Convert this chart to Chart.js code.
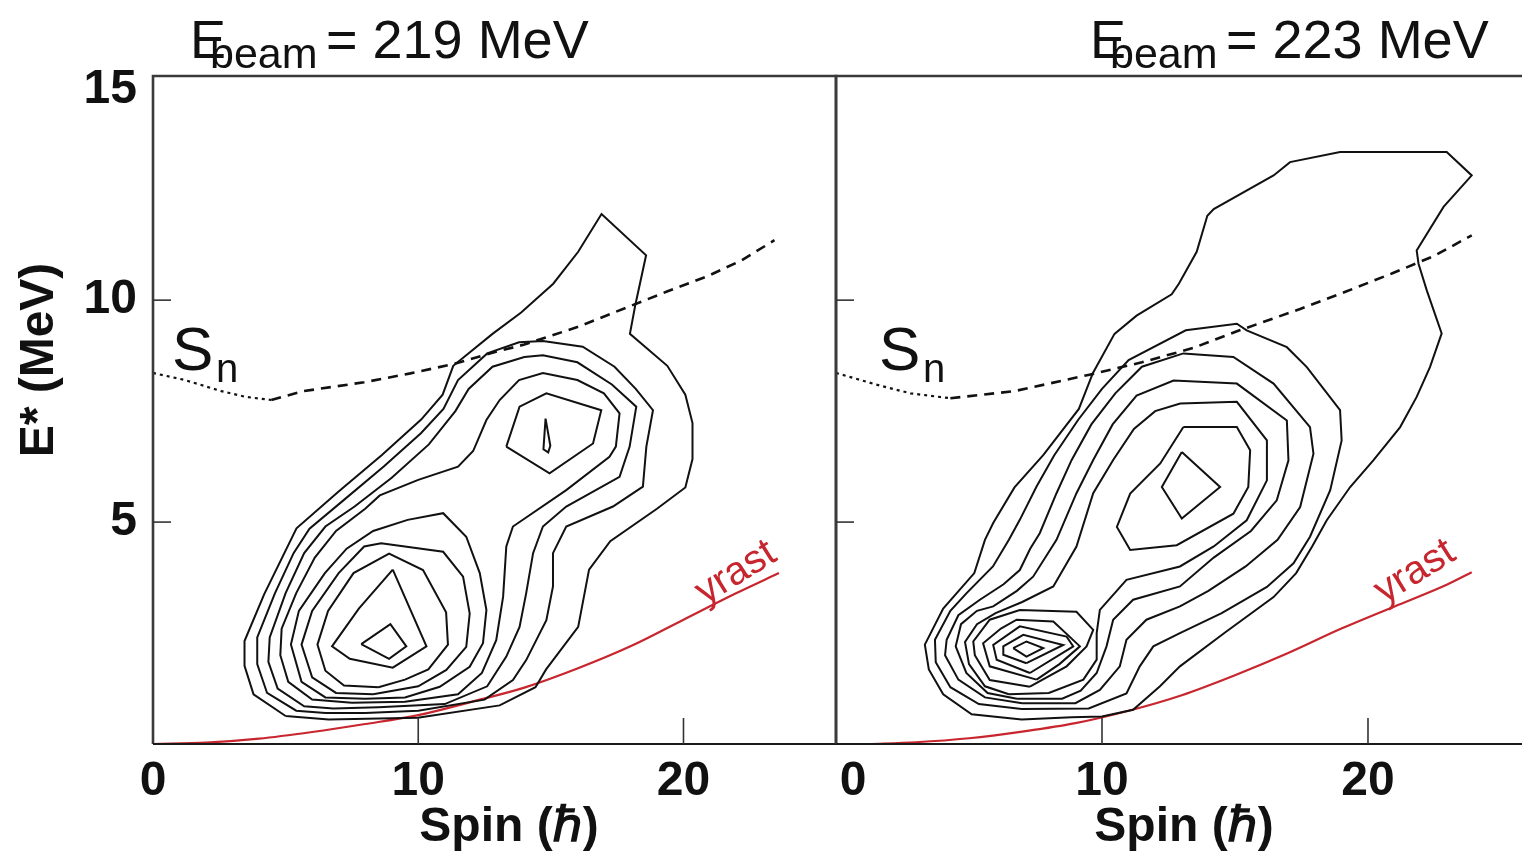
<!DOCTYPE html>
<html>
<head>
<meta charset="utf-8">
<script src="https://cdn.jsdelivr.net/npm/chart.js@4.4.1/dist/chart.umd.min.js"></script>
<style>
  html, body { margin: 0; padding: 0; background: #fff; }
  body { width: 1522px; height: 853px; position: relative; overflow: hidden; }
  canvas { position: absolute; top: 0; }
  #left { left: 0; }
  #right { left: 800px; }
</style>
</head>
<body>
<canvas id="left" width="840" height="853"></canvas>
<canvas id="right" width="722" height="853"></canvas>
<script>
// axis ticks (spin in hbar, excitation energy in MeV)
const spinTicks = [0, 10, 20];
const energyTicks = [5, 10, 15];

// ---- E_beam = 219 MeV ----
const snDotted219 = [[0, 8.36], [1.2, 8.2], [2.58, 7.95], [3.5, 7.82], [4.46, 7.75]];
const snDashed219 = [[4.46, 7.75], [5.67, 7.95], [7.96, 8.15], [9.7, 8.35], [11.32, 8.56], [12.7, 8.8], [14.0, 9.0],
  [16.03, 9.4], [18.05, 9.88], [19.4, 10.2], [20.87, 10.53], [22.2, 10.9], [23.43, 11.35]];
const yrast219 = [[0, 0], [2, 0.03], [4, 0.12], [6, 0.27], [8, 0.45], [10, 0.65], [12, 0.95], [14, 1.27],
  [16, 1.7], [18, 2.2], [20, 2.8], [22, 3.4], [23.6, 3.85]];
const contours219 = [
  [[5.00, 0.63], [3.79, 1.12], [3.45, 1.76], [3.45, 2.32], [4.19, 3.37], [5.41, 4.86], [7.02, 5.70], [8.63, 6.51],
   [10.11, 7.31], [10.92, 7.87], [11.32, 8.52], [12.80, 9.24], [13.88, 9.72], [15.09, 10.37], [16.03, 11.09],
   [16.91, 11.94], [18.59, 11.01], [18.18, 9.88], [17.98, 9.24], [19.39, 8.52], [20.07, 7.87], [20.34, 7.23],
   [20.34, 6.42], [20.07, 5.78], [19.0, 5.30], [17.24, 4.57], [16.44, 3.93], [16.03, 2.64], [14.82, 1.68],
   [14.42, 1.28], [13.07, 0.87], [9.98, 0.59], [6.62, 0.55]],
  [[6.5, 0.70], [5.4, 0.75], [4.3, 1.15], [3.93, 1.8], [3.93, 2.4], [4.6, 3.4], [5.3, 4.3], [5.9, 4.85], [7.2, 5.5],
   [8.7, 6.25], [10.1, 7.0], [10.95, 7.55], [11.5, 8.2], [12.6, 8.8], [13.8, 9.05], [14.7, 9.08], [16.2, 8.95],
   [17.4, 8.5], [18.2, 8.0], [18.85, 7.52], [18.6, 6.70], [18.47, 5.80], [17.34, 5.35], [15.58, 4.90], [15.08, 4.30],
   [15.08, 3.55], [14.83, 2.79], [14.07, 1.89], [13.57, 1.44], [12.5, 1.0], [10.0, 0.75], [8.0, 0.7]],
  [[6.8, 0.80], [5.7, 0.85], [4.7, 1.25], [4.35, 1.85], [4.40, 2.4], [5.0, 3.4], [5.7, 4.3], [6.5, 4.9], [7.6, 5.35],
   [9.0, 6.0], [10.4, 6.75], [11.4, 7.5], [11.9, 8.0], [12.8, 8.5], [14.0, 8.72], [14.7, 8.76], [16.0, 8.6],
   [17.3, 8.1], [18.22, 7.60], [17.97, 6.70], [17.59, 6.02], [15.58, 5.35], [14.70, 4.90], [14.33, 4.30],
   [14.07, 3.40], [13.82, 2.64], [13.32, 1.97], [12.6, 1.3], [11.0, 0.9], [8.5, 0.83]],
  [[7.5, 0.93], [6.0, 1.0], [5.1, 1.4], [4.8, 2.0], [4.85, 2.6], [5.4, 3.4], [6.1, 4.2], [6.9, 4.8], [8.0, 5.3],
   [8.55, 5.6], [10.0, 5.95], [11.5, 6.25], [12.07, 6.6], [12.57, 7.3], [13.07, 7.75], [13.8, 8.2], [14.7, 8.36],
   [16.0, 8.2], [17.0, 7.9], [17.59, 7.45], [17.45, 6.7], [17.21, 6.47], [15.58, 5.72], [13.57, 4.90], [13.32, 4.45],
   [13.2, 3.32], [12.94, 2.34], [12.4, 1.6], [11.5, 1.12], [9.5, 0.95]],
  // upper maximum
  [[13.32, 6.70], [13.82, 7.60], [14.83, 7.90], [16.90, 7.52], [16.59, 6.77], [14.95, 6.10]],
  [[14.8, 7.33], [14.98, 6.72], [14.9, 6.57], [14.72, 6.64]],
  // lower maximum
  [[8.0, 1.02], [6.5, 1.05], [5.6, 1.4], [5.2, 2.24], [5.5, 3.0], [6.48, 3.85], [7.3, 4.4], [8.3, 4.8], [9.6, 5.05],
   [10.94, 5.2], [11.81, 4.67], [12.32, 3.85], [12.57, 3.02], [12.44, 2.27], [11.94, 1.74], [10.81, 1.29], [9.5, 1.05]],
  [[8.3, 1.12], [6.9, 1.15], [6.0, 1.5], [5.6, 2.24], [6.0, 3.0], [7.0, 3.85], [7.96, 4.45], [8.6, 4.52],
   [10.94, 4.33], [11.69, 3.77], [11.94, 2.94], [11.81, 2.19], [11.06, 1.67], [10.0, 1.3]],
  [[8.5, 1.28], [7.2, 1.32], [6.5, 1.65], [6.2, 2.24], [6.6, 3.0], [7.56, 3.85], [8.9, 4.29], [10.18, 3.92],
   [11.05, 2.97], [11.12, 2.24], [10.38, 1.68], [9.5, 1.45]],
  [[9.04, 3.93], [10.31, 2.2], [9.04, 1.72], [7.42, 1.92], [6.75, 2.2], [7.76, 3.05]],
  [[7.85, 2.25], [8.95, 2.7], [9.55, 2.2], [8.9, 1.92]]
];

// ---- E_beam = 223 MeV ----
const snDotted223 = [[0, 8.36], [1.5, 8.1], [2.8, 7.9], [4.3, 7.79]];
const snDashed223 = [[4.3, 7.79], [6.71, 7.95], [9.53, 8.32], [11.5, 8.6], [13.42, 8.92], [15.17, 9.32],
  [17.45, 9.8], [19.2, 10.2], [20.94, 10.61], [22.5, 11.0], [23.9, 11.46]];
const yrast223 = [[1.2, 0], [3, 0.04], [5, 0.13], [7, 0.28], [9, 0.47], [11, 0.75], [13, 1.1], [15, 1.55],
  [17, 2.05], [19, 2.6], [21, 3.1], [23, 3.6], [23.9, 3.87]];
const contours223 = [
  [[8.86, 0.6], [6.98, 0.55], [5.1, 0.67], [4.03, 1.12], [3.49, 1.68], [3.34, 2.24], [4.03, 3.05], [5.2, 3.85],
   [5.6, 4.6], [5.91, 4.98], [6.71, 5.78], [7.79, 6.51], [9.13, 7.55], [9.66, 8.36], [10.47, 9.24], [11.3, 9.65],
   [12.62, 10.13], [12.89, 10.37], [13.56, 11.09], [13.96, 11.9], [14.2, 12.05], [16.45, 12.81], [17.07, 13.11],
   [18.95, 13.34], [22.96, 13.34], [23.9, 12.81], [22.84, 12.1], [21.83, 11.12], [21.9, 10.82], [22.21, 10.22],
   [22.77, 9.25], [22.33, 8.49], [21.83, 7.82], [21.21, 7.14], [20.2, 6.39], [19.33, 5.79], [18.45, 5.04],
   [17.9, 4.45], [17.3, 3.85], [16.45, 3.31], [14.6, 2.5], [12.93, 1.75], [12.18, 1.3], [11.17, 0.77], [10.0, 0.62]],
  [[6.98, 0.79], [5.37, 0.9], [4.3, 1.28], [3.75, 1.84], [3.72, 2.35], [4.3, 3.0], [4.91, 3.4], [5.9, 4.0],
   [6.5, 4.6], [6.91, 5.05], [7.54, 5.8], [8.2, 6.5], [9.1, 7.3], [10.0, 8.0], [11.0, 8.65], [13.15, 9.32],
   [15.07, 9.47], [15.44, 9.32], [16.95, 8.94], [17.7, 8.49], [18.95, 7.52], [19.01, 6.84], [18.58, 5.72],
   [17.82, 4.67], [17.2, 4.07], [16.2, 3.54], [14.5, 2.95], [12.93, 2.5], [11.93, 2.2], [11.42, 1.75],
   [10.92, 1.14], [9.5, 0.8]],
  [[7.0, 0.92], [5.6, 1.05], [4.6, 1.45], [4.1, 2.0], [4.16, 2.35], [4.6, 2.9], [5.41, 3.25], [6.3, 3.6],
   [6.91, 3.92], [7.3, 4.4], [7.66, 4.75], [8.29, 5.65], [8.86, 6.4], [9.6, 7.2], [10.5, 7.9], [11.5, 8.5],
   [13.06, 8.8], [14.94, 8.72], [16.45, 8.12], [17.82, 7.14], [17.95, 6.54], [17.45, 5.34], [16.6, 4.6],
   [15.4, 4.0], [14.0, 3.45], [12.93, 3.1], [11.67, 2.8], [10.92, 2.35], [10.67, 1.75], [9.92, 1.22], [9.0, 0.92]],
  [[6.8, 1.02], [5.7, 1.15], [4.9, 1.6], [4.5, 2.2], [4.7, 2.7], [5.3, 3.0], [5.91, 3.1], [6.8, 3.45], [7.41, 3.77],
   [8.29, 4.6], [9.04, 5.65], [9.67, 6.4], [10.4, 7.2], [11.3, 7.85], [12.69, 8.19], [15.07, 8.12], [16.95, 7.29],
   [17.01, 6.39], [16.57, 5.49], [15.6, 4.8], [14.2, 4.2], [12.93, 3.55], [11.17, 3.25], [10.42, 2.8],
   [10.17, 2.2], [9.8, 1.6], [9.2, 1.2], [8.5, 1.02]],
  [[6.5, 1.12], [5.6, 1.3], [5.0, 1.8], [4.85, 2.3], [5.3, 2.7], [6.0, 2.95], [7.0, 3.2], [8.17, 3.55],
   [9.04, 4.45], [9.67, 5.65], [10.42, 6.4], [11.2, 7.1], [12.0, 7.5], [12.94, 7.67], [15.07, 7.71], [16.2, 6.84],
   [16.2, 5.94], [15.44, 5.04], [14.2, 4.45], [12.93, 4.0], [10.92, 3.7], [9.92, 3.02], [9.8, 2.5], [9.8, 1.9],
   [9.3, 1.45], [8.0, 1.15]],
  // upper maximum
  [[13.06, 7.14], [15.07, 7.14], [15.57, 6.62], [15.5, 5.79], [14.94, 5.19], [12.81, 4.48], [11.06, 4.37],
   [10.56, 4.89], [11.06, 5.64], [12.19, 6.32]],
  [[13.0, 6.58], [14.44, 5.79], [13.0, 5.08], [12.25, 5.79]],
  // lower maximum
  [[7.29, 1.29], [5.78, 1.44], [5.22, 2.0], [5.16, 2.31], [5.78, 2.8], [6.91, 3.02], [9.04, 2.98], [9.67, 2.57],
   [9.42, 2.2], [8.67, 1.75]],
  [[7.54, 1.45], [5.78, 1.75], [5.53, 2.27], [6.2, 2.6], [6.79, 2.8], [8.17, 2.76], [9.17, 2.2], [8.4, 1.8]],
  [[7.29, 1.6], [6.04, 1.9], [5.91, 2.23], [6.91, 2.65], [8.67, 2.42], [8.92, 2.2]],
  [[7.16, 1.82], [6.29, 2.01], [6.29, 2.2], [7.04, 2.46], [8.54, 2.23]],
  [[6.66, 2.16], [7.16, 2.31], [7.79, 2.16], [7.16, 1.97]]
];

Chart.defaults.font.family = "'Liberation Sans', Arial, sans-serif";

const INK = '#111';
const RED = '#c8262e';
const SANS = "'Liberation Sans', Arial, sans-serif";

const toPoints = list => list.map(([x, y]) => ({x, y}));

function buildDatasets(contours, snDotted, snDashed, yrast) {
  const sets = contours.map(c => ({
    data: toPoints([...c, c[0]]),
    showLine: true, borderColor: INK, borderWidth: 2, pointRadius: 0, tension: 0
  }));
  sets.push({data: toPoints(yrast), showLine: true, borderColor: RED, borderWidth: 2.2,
    pointRadius: 0, cubicInterpolationMode: 'monotone'});
  sets.push({data: toPoints(snDotted), showLine: true, borderColor: INK, borderWidth: 2.2,
    borderDash: [3, 4], pointRadius: 0, tension: 0});
  sets.push({data: toPoints(snDashed), showLine: true, borderColor: INK, borderWidth: 2.6,
    borderDash: [10, 7], pointRadius: 0, tension: 0});
  return sets;
}

function put(ctx, str, x, y, font, color, align, baseline, rot) {
  ctx.save();
  ctx.translate(x, y);
  if (rot) ctx.rotate(rot * Math.PI / 180);
  ctx.font = font;
  ctx.fillStyle = color;
  ctx.textAlign = align || 'left';
  ctx.textBaseline = baseline || 'alphabetic';
  ctx.fillText(str, 0, 0);
  ctx.restore();
}

// frame, inner ticks and all the lettering of one panel
function panelDecor(cfg) {
  return {
    id: 'panelDecor',
    afterDatasetsDraw(chart) {
      const {ctx, chartArea: a, scales: {x, y}} = chart;
      const dx = -cfg.pageLeft;
      ctx.save();

      ctx.lineCap = 'butt';
      ctx.strokeStyle = '#3a3a3a';
      ctx.lineWidth = 2.6;
      ctx.beginPath();
      ctx.moveTo(a.left, a.bottom);
      ctx.lineTo(a.left, a.top);
      ctx.lineTo(a.right, a.top);
      if (cfg.closeRight) ctx.lineTo(a.right, a.bottom);
      ctx.stroke();
      ctx.strokeStyle = '#1a1a1a';
      ctx.lineWidth = 2;
      ctx.beginPath();
      ctx.moveTo(a.left, a.bottom);
      ctx.lineTo(a.right, a.bottom);
      ctx.stroke();

      ctx.lineWidth = 1.6;
      ctx.strokeStyle = '#333';
      spinTicks.filter(v => v > 0).forEach(v => {
        const px = x.getPixelForValue(v);
        ctx.beginPath(); ctx.moveTo(px, a.bottom); ctx.lineTo(px, a.bottom - 26); ctx.stroke();
      });
      energyTicks.filter(v => v < 15).forEach(v => {
        const py = y.getPixelForValue(v);
        ctx.beginPath(); ctx.moveTo(a.left, py); ctx.lineTo(a.left + 18, py); ctx.stroke();
      });

      const tickFont = 'bold 48px ' + SANS;
      spinTicks.forEach(v => {
        const shift = (v === 0 && cfg.shiftZero) ? cfg.shiftZero : 0;
        put(ctx, String(v), x.getPixelForValue(v) + shift, 782, tickFont, INK, 'center', 'middle');
      });
      if (cfg.energyLabels) {
        energyTicks.forEach(v => {
          const py = y.getPixelForValue(v) + (v === 15 ? 12 : 0);
          put(ctx, String(v), 137, py, tickFont, INK, 'right', 'middle');
        });
        put(ctx, 'E* (MeV)', 40, 360, 'bold 48px ' + SANS, INK, 'center', 'middle', -90);
      }
      put(ctx, 'Spin (ℏ)', cfg.spinTitleX + dx, 828, 'bold 48px ' + SANS, INK, 'center', 'middle');

      // beam energy heading
      put(ctx, 'E', cfg.titleX + dx, 58, '54px ' + SANS, INK);
      put(ctx, 'beam', cfg.titleX + 20 + dx, 68, '43px ' + SANS, INK);
      put(ctx, '= ' + cfg.beam + ' MeV', cfg.titleX + 136 + dx, 58, '54px ' + SANS, INK);

      // neutron separation energy and yrast labels
      put(ctx, 'S', cfg.snX + dx, 370, '62px ' + SANS, INK);
      put(ctx, 'n', cfg.snX + 44 + dx, 382, '40px ' + SANS, INK);
      put(ctx, 'yrast', cfg.yrastX + dx, cfg.yrastY, '40px ' + SANS, RED, 'center', 'middle', -32);

      ctx.restore();
    }
  };
}

function makePanel(id, datasets, xMax, padLeft, showY, cfg) {
  return new Chart(document.getElementById(id), {
    type: 'scatter',
    data: {datasets},
    options: {
      responsive: false,
      animation: false,
      events: [],
      layout: {padding: {top: 76, right: cfg.closeRight ? 4 : 0, bottom: 0, left: padLeft}},
      plugins: {legend: {display: false}, tooltip: {enabled: false}},
      scales: {
        x: {
          type: 'linear', min: 0, max: xMax,
          grid: {display: false, drawTicks: false}, border: {display: false}, ticks: {display: false},
          afterFit: s => { s.height = 109; }
        },
        y: {
          type: 'linear', min: 0, max: 15.05, display: showY,
          grid: {display: false, drawTicks: false}, border: {display: false}, ticks: {display: false},
          afterFit: s => { s.width = showY ? 153 : 0; }
        }
      }
    },
    plugins: [panelDecor(cfg)]
  });
}

makePanel('left', buildDatasets(contours219, snDotted219, snDashed219, yrast219), 25.75, 0, true, {
  pageLeft: 0, closeRight: true, energyLabels: true, beam: '219',
  titleX: 190, spinTitleX: 509, snX: 172, yrastX: 736, yrastY: 573
});

makePanel('right', buildDatasets(contours223, snDotted223, snDashed223, yrast223), 25.79, 36, false, {
  pageLeft: 800, closeRight: false, energyLabels: false, shiftZero: 17, beam: '223',
  titleX: 1090, spinTitleX: 1184, snX: 879, yrastX: 1415, yrastY: 572
});
</script>
</body>
</html>
